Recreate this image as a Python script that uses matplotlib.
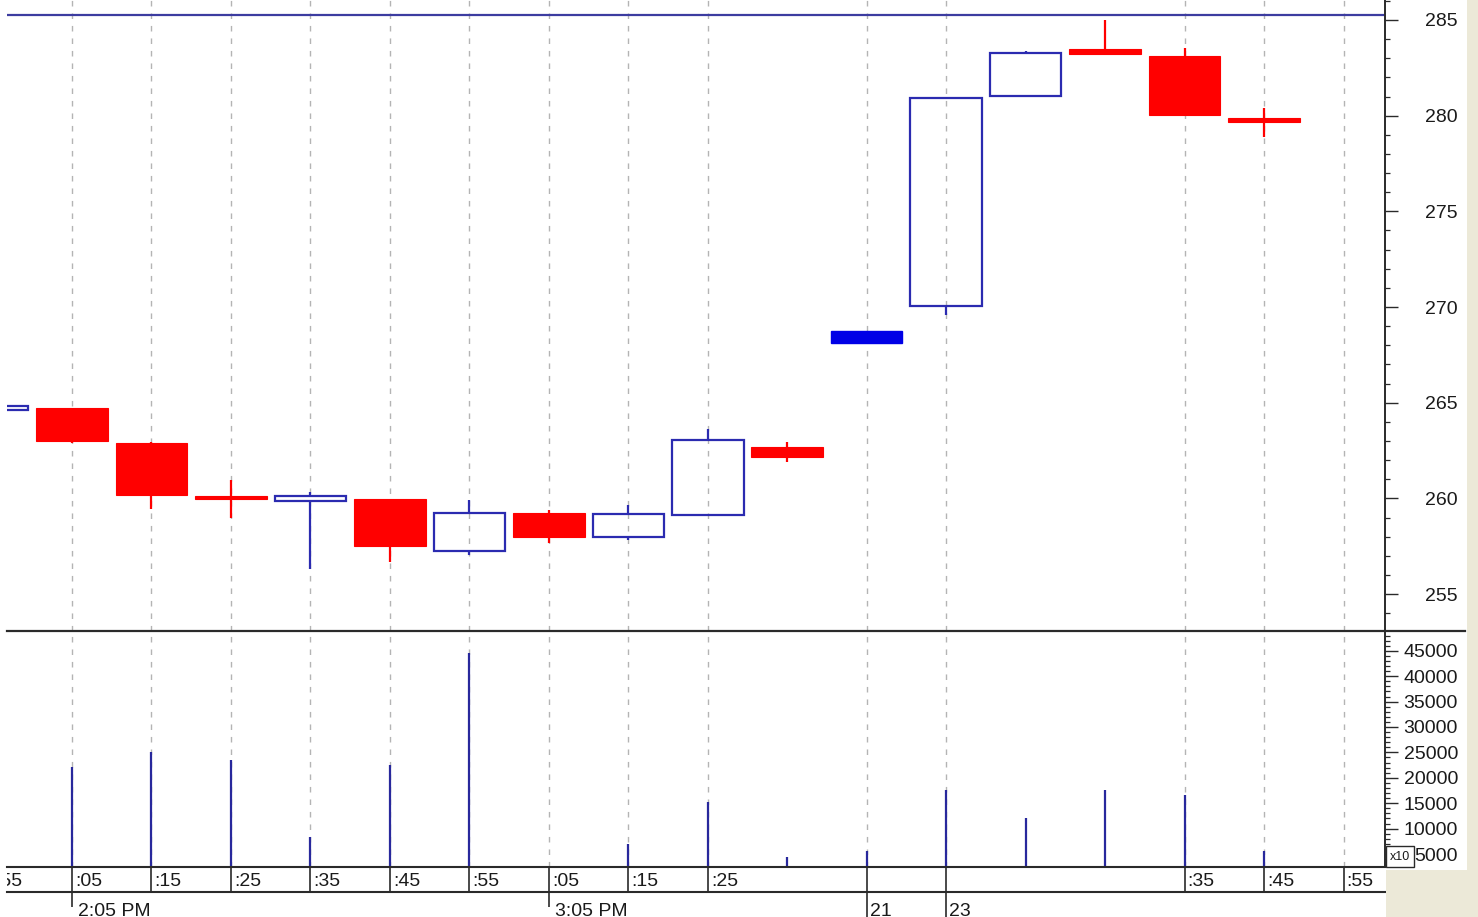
import numpy as np
import matplotlib
matplotlib.use("Agg")
import matplotlib.pyplot as plt
from matplotlib.patches import Rectangle
from matplotlib.lines import Line2D
from matplotlib.ticker import MultipleLocator
from matplotlib.transforms import offset_copy

plt.rcParams['font.family'] = ['Liberation Sans', 'DejaVu Sans']

# candle slots (10-minute bars), slot -1 is the partly hidden bar at the left edge
slots = np.arange(-1, 16)
opens = [264.62, 264.72, 262.89, 260.10, 259.86, 259.96, 257.25, 259.23, 257.98,
         259.13, 262.68, 268.12, 270.05, 281.03, 283.48, 283.12, 279.88]
highs = [264.83, 264.72, 262.94, 260.96, 260.33, 259.96, 259.91, 259.39, 259.65,
         263.62, 262.94, 268.75, 281.00, 283.38, 285.00, 283.54, 280.40]
lows = [264.62, 262.90, 259.44, 258.97, 256.31, 256.67, 257.04, 257.67, 257.82,
        259.13, 261.90, 268.12, 269.58, 281.03, 283.22, 280.03, 278.88]
closes = [264.83, 263.00, 260.17, 259.95, 260.12, 257.51, 259.23, 257.98, 259.18,
          263.05, 262.16, 268.75, 280.92, 283.28, 283.22, 280.03, 279.67]
volumes = [0, 22070, 25080, 23500, 8400, 22580, 44630, 0, 6900,
           15180, 4350, 5590, 17600, 12150, 17600, 16670, 5590]
solid_slots = [10]          # bar drawn as a solid blue block
ref_price = 285.26          # horizontal reference line

# time axis labels
minute_pos = [-1, 0, 1, 2, 3, 4, 5, 6, 7, 8, 14, 15, 16]
minute_labels = [':55', ':05', ':15', ':25', ':35', ':45', ':55', ':05', ':15', ':25',
                 ':35', ':45', ':55']
hour_pos = [0, 6]
hour_labels = ['2:05 PM', '3:05 PM']
day_pos = [10, 11]
day_labels = ['21', '23']

price_ticks = np.arange(255, 286, 5)
vol_ticks = np.arange(5000, 46000, 5000)

W, H = 1478, 917
fig = plt.figure(figsize=(W / 100, H / 100), dpi=100)
fig.patch.set_facecolor('white')


def box(x0, y0, x1, y1):
    return [x0 / W, 1 - y1 / H, (x1 - x0) / W, (y1 - y0) / H]


ax = fig.add_axes(box(7, 0, 1385, 631))
vax = fig.add_axes(box(7, 632, 1385, 867), sharex=ax)
tax = fig.add_axes(box(7, 867, 1385, 917), sharex=ax)

ax.set_xlim(-0.818, 16.522)
ax.set_ylim(253.07, 286.045)
vax.set_ylim(2441, 48700)
tax.set_ylim(50, 0)

blue = '#2b2bb0'
red = '#ff0000'
grid_c = '#b4b4b4'
axis_c = '#2a2a2a'
txt_c = '#1a1a1a'
fs = 14

# dashed vertical grid at labelled times
grid_pos = sorted(set(minute_pos + day_pos))
for a in (ax, vax):
    for p in grid_pos:
        a.axvline(p, color=grid_c, lw=1.0, ls=(0, (4, 5)), zorder=0)

ax.axhline(ref_price, color='#3c3ca0', lw=1.6, zorder=1)

# candles
w = 0.9
min_h = 0.15
for s, o, h, l, c in zip(slots, opens, highs, lows, closes):
    if s in solid_slots:
        ax.add_patch(Rectangle((s - w / 2, min(o, c)), w, abs(c - o),
                               facecolor='#0000e6', edgecolor='#0000e6', lw=1, zorder=3))
    elif c >= o:
        top, bot = c, o
        if h > top:
            ax.vlines(s, top, h, color=blue, lw=1.6, zorder=2)
        if l < bot:
            ax.vlines(s, l, bot, color=blue, lw=1.6, zorder=2)
        ax.add_patch(Rectangle((s - w / 2, bot), w, top - bot, fill=False,
                               edgecolor=blue, lw=1.6, zorder=3))
    else:
        ax.vlines(s, l, h, color=red, lw=1.6, zorder=2)
        hgt = max(o - c, min_h)
        mid = (o + c) / 2
        ax.add_patch(Rectangle((s - w / 2, mid - hgt / 2), w, hgt,
                               facecolor=red, edgecolor=red, lw=0.8, zorder=3))

# volume
vol = np.array(volumes)
mask = vol > 0
vax.vlines(slots[mask], 2441, vol[mask], color='#28289c', lw=1.6, zorder=2)

# axis styling
for a in (ax, vax):
    for side in ('top', 'left', 'bottom'):
        a.spines[side].set_visible(False)
    a.spines['right'].set_color(axis_c)
    a.spines['right'].set_linewidth(1.4)
    a.yaxis.tick_right()
    a.tick_params(axis='x', bottom=False, labelbottom=False)
    a.tick_params(axis='y', which='major', length=9.4, width=1.0, color=axis_c,
                  pad=43.2, labelsize=fs, labelcolor=txt_c)
    a.tick_params(axis='y', which='minor', length=3.6, width=0.9, color=axis_c)

ax.set_yticks(price_ticks)
ax.set_yticklabels([str(v) for v in price_ticks])
ax.yaxis.set_minor_locator(MultipleLocator(1))
vax.set_yticks(vol_ticks)
vax.set_yticklabels([str(v) for v in vol_ticks])
vax.yaxis.set_minor_locator(MultipleLocator(1000))
for a in (ax, vax):
    for lab in a.get_yticklabels():
        lab.set_ha('right')

# time axis drawn by hand
tax.axis('off')
tax.axhline(0, color=axis_c, lw=1.5, clip_on=False)
tax.axhline(25, color=axis_c, lw=1.5, clip_on=False)
tax.vlines(minute_pos, 0, 25, color=axis_c, lw=1.2)
tax.vlines(hour_pos, 25, 40, color=axis_c, lw=1.2)
tax.vlines(day_pos, 0, 50, color=axis_c, lw=1.2)
shift = offset_copy(tax.transData, fig=fig, x=3, y=0, units='dots')
shift_h = offset_copy(tax.transData, fig=fig, x=6, y=0, units='dots')
for p, lab in zip(minute_pos, minute_labels):
    tax.text(p, 14, lab, transform=shift, ha='left', va='center', fontsize=fs,
             color=txt_c, clip_on=True)
for p, lab in zip(hour_pos, hour_labels):
    tax.text(p, 36, lab, transform=shift_h, ha='left', va='top', fontsize=fs,
             color=txt_c, clip_on=True)
for p, lab in zip(day_pos, day_labels):
    tax.text(p, 36, lab, transform=shift, ha='left', va='top', fontsize=fs,
             color=txt_c, clip_on=True)

# separator between price and volume panes
fig.add_artist(Line2D([7 / W, 1465 / W], [1 - 631 / H, 1 - 631 / H],
                      transform=fig.transFigure, color=axis_c, lw=1.6))

# window chrome on the right and lower right
fig.add_artist(Rectangle((1467 / W, 0), 11 / W, 1, transform=fig.transFigure,
                         facecolor='#ece9d8', edgecolor='none'))
fig.add_artist(Rectangle((1386 / W, 0), 81 / W, (917 - 870) / H,
                         transform=fig.transFigure, facecolor='#ece9d8', edgecolor='none'))

# multiplier box
fig.add_artist(Rectangle((1386 / W, 1 - 867 / H), 28 / W, 21 / H, transform=fig.transFigure,
                         facecolor='white', edgecolor=axis_c, lw=1.0, zorder=5))
fig.text(1400 / W, 1 - 857 / H, 'x10', ha='center', va='center', fontsize=9,
         color=txt_c, zorder=6)

fig.savefig('out.png', dpi=100)
